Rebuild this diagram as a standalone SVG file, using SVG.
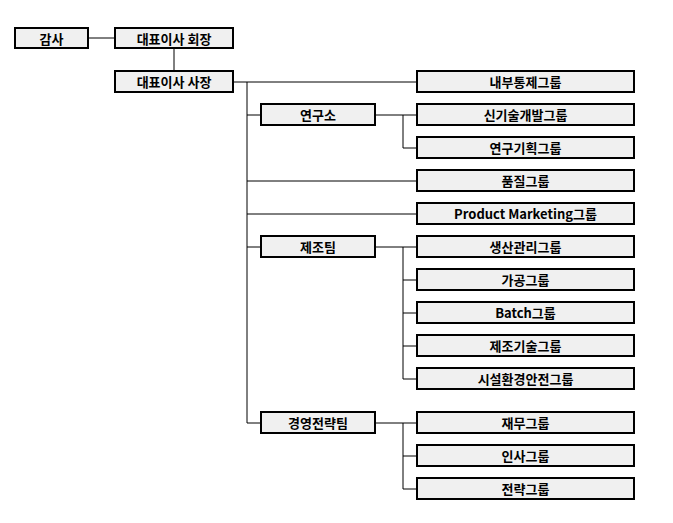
<svg xmlns="http://www.w3.org/2000/svg" width="673" height="523" viewBox="0 0 673 523">
<style>
rect{fill:#f0f0f0;stroke:#000;stroke-width:2}
text{font-family:"Noto Sans CJK KR","Liberation Sans",sans-serif;font-weight:bold;font-size:13px;text-anchor:middle;dominant-baseline:central;fill:#000}
#c path{stroke:#000;stroke-width:1;fill:none}
</style>
<rect width="673" height="523" style="fill:#fff;stroke:none"/>
<g id="c">
<path d="M88 38H115M174 48V71M233 82H417M247 82V423M247 115H261M247 181H417M247 214H417M247 247H261M247 423H261"/>
<path d="M375 115H417M403 115V148H417"/>
<path d="M375 247H417M403 247V379M403 280H417M403 313H417M403 346H417M403 379H417"/>
<path d="M375 423H417M403 423V489M403 456H417M403 489H417"/>
</g>
<g id="n1"><rect x="15" y="28" width="73" height="20"/><text x="51.5" y="38">감사</text></g>
<g id="n2"><rect x="115" y="28" width="118" height="20"/><text x="174" y="38">대표이사 회장</text></g>
<g id="n3"><rect x="115" y="71" width="118" height="21"/><text x="174" y="81.5">대표이사 사장</text></g>
<g id="n4"><rect x="261" y="104" width="114" height="21"/><text x="318" y="114.5">연구소</text></g>
<g id="n5"><rect x="261" y="236" width="114" height="21"/><text x="318" y="246.5">제조팀</text></g>
<g id="n6"><rect x="261" y="412" width="114" height="21"/><text x="318" y="422.5">경영전략팀</text></g>
<g id="r1"><rect x="417" y="71" width="217" height="21"/><text x="525.5" y="81.5">내부통제그룹</text></g>
<g id="r2"><rect x="417" y="104" width="217" height="21"/><text x="525.5" y="114.5">신기술개발그룹</text></g>
<g id="r3"><rect x="417" y="137" width="217" height="21"/><text x="525.5" y="147.5">연구기획그룹</text></g>
<g id="r4"><rect x="417" y="170" width="217" height="21"/><text x="525.5" y="180.5">품질그룹</text></g>
<g id="r5"><rect x="417" y="203" width="217" height="21"/><text x="525.5" y="213.5">Product Marketing그룹</text></g>
<g id="r6"><rect x="417" y="236" width="217" height="21"/><text x="525.5" y="246.5">생산관리그룹</text></g>
<g id="r7"><rect x="417" y="269" width="217" height="21"/><text x="525.5" y="279.5">가공그룹</text></g>
<g id="r8"><rect x="417" y="302" width="217" height="21"/><text x="525.5" y="312.5">Batch그룹</text></g>
<g id="r9"><rect x="417" y="335" width="217" height="21"/><text x="525.5" y="345.5">제조기술그룹</text></g>
<g id="r10"><rect x="417" y="368" width="217" height="21"/><text x="525.5" y="378.5">시설환경안전그룹</text></g>
<g id="r11"><rect x="417" y="412" width="217" height="21"/><text x="525.5" y="422.5">재무그룹</text></g>
<g id="r12"><rect x="417" y="445" width="217" height="21"/><text x="525.5" y="455.5">인사그룹</text></g>
<g id="r13"><rect x="417" y="478" width="217" height="21"/><text x="525.5" y="488.5">전략그룹</text></g>
</svg>
